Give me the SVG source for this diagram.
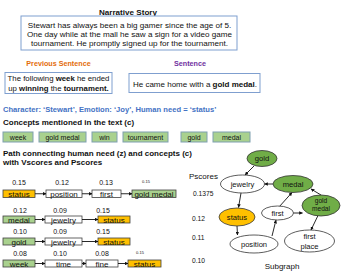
<svg xmlns="http://www.w3.org/2000/svg" width="352" height="274" viewBox="0 0 352 274">
<style>
text{font-family:"Liberation Sans",Arial,sans-serif;fill:#111}
.b{font-weight:bold}
.t{font-size:8.1px}
.h{font-size:8px;font-weight:bold}
.s{font-size:7px}
.pb{font-size:8px}
.g{font-size:7.6px}
.n{font-size:7px}
.tiny{font-size:4px}
.ps{font-size:6.7px}
.frame{fill:#fff;stroke:#7f9fcf;stroke-width:1}
.cbox{fill:#a9d18e;stroke:#7f9fb0;stroke-width:1}
.pw{fill:#fff;stroke:#404040;stroke-width:0.8}
.pg{fill:#a9d18e;stroke:#404040;stroke-width:0.8}
.po{fill:#ffc000;stroke:#404040;stroke-width:0.8}
.eg{fill:#70ad47;stroke:#333;stroke-width:0.8}
.ew{fill:#fff;stroke:#333;stroke-width:0.8}
.eo{fill:#ffc000;stroke:#333;stroke-width:0.8}
.c{text-anchor:middle}
.ln{stroke:#111;stroke-width:0.9;fill:none;marker-end:url(#ah)}
</style>
<defs>
<marker id="ah" viewBox="0 0 6 6" refX="5.5" refY="3" markerWidth="4" markerHeight="4" orient="auto" markerUnits="strokeWidth">
<path d="M0,0 L6,3 L0,6 z" fill="#111"/>
</marker>
</defs>
<rect width="352" height="274" fill="#fff"/>

<g id="story">
<text x="128" y="14.5" class="t b c">Narrative Story</text>
<rect x="21" y="16" width="216" height="34" class="frame"/>
<text x="129.5" y="27.5" class="t c">Stewart has always been a big gamer since the age of 5.</text>
<text x="129.5" y="37" class="t c">One day while at the mall he saw a sign for a video game</text>
<text x="129.5" y="46" class="t c">tournament. He promptly signed up for the tournament.</text>
</g>

<g id="prev">
<text x="58.5" y="65.5" class="b c" style="font-size:7.2px;fill:#e36c0a">Previous Sentence</text>
<rect x="5" y="72.5" width="107" height="21" class="frame"/>
<text x="58.5" y="81" class="c" style="font-size:7.8px">The following <tspan class="b">week</tspan> he ended</text>
<text x="58.5" y="91" class="c" style="font-size:7.8px">up <tspan class="b">winning</tspan> the <tspan class="b">tournament.</tspan></text>
</g>

<g id="sent">
<text x="190" y="65.5" class="b c" style="font-size:7.2px;fill:#7030a0">Sentence</text>
<rect x="129" y="73.5" width="131" height="19" class="frame"/>
<text x="195" y="86.5" class="c" style="font-size:8px">He came home with a <tspan class="b">gold medal</tspan>.</text>
</g>

<text x="3" y="111.5" class="b" style="font-size:7.6px;fill:#4472c4">Character: ‘Stewart’, Emotion: ‘Joy’, Human need = ‘status’</text>
<text x="3" y="125" class="h">Concepts mentioned in the text (c)</text>

<g id="concepts">
<rect x="3" y="132" width="30" height="10" class="cbox"/><text x="18" y="140" class="s c">week</text>
<rect x="39" y="132" width="47" height="10" class="cbox"/><text x="62.5" y="140" class="s c">gold medal</text>
<rect x="92" y="132" width="25" height="10" class="cbox"/><text x="104.5" y="140" class="s c">win</text>
<rect x="123" y="132" width="45" height="10" class="cbox"/><text x="145.5" y="140" class="s c">tournament</text>
<rect x="181" y="132" width="26" height="10" class="cbox"/><text x="194" y="140" class="s c">gold</text>
<rect x="213" y="132" width="37" height="10" class="cbox"/><text x="231.5" y="140" class="s c">medal</text>
</g>

<text x="3" y="155.5" class="h">Path connecting human need (z) and concepts (c)</text>
<text x="3" y="165" class="h">with Vscores and Pscores</text>

<g id="paths">
<text x="19" y="184.5" class="n c">0.15</text>
<text x="62" y="184.5" class="n c">0.12</text>
<text x="106" y="184.5" class="n c">0.13</text>
<text x="146" y="182.5" class="tiny c">0.15</text>
<rect x="3" y="190" width="32" height="7.5" class="po"/><text x="19" y="197" class="pb c">status</text>
<rect x="46" y="190" width="36" height="7.5" class="pw"/><text x="64" y="197" class="pb c">position</text>
<rect x="92" y="190" width="29" height="7.5" class="pw"/><text x="106.5" y="197" class="pb c">first</text>
<rect x="132" y="190" width="44" height="7.5" class="pg"/><text x="154" y="197" class="pb c">gold medal</text>

<text x="20" y="212.5" class="n c">0.12</text>
<text x="60" y="212.5" class="n c">0.09</text>
<text x="103" y="212.5" class="n c">0.15</text>
<rect x="3" y="216" width="32" height="7" class="pg"/><text x="19" y="222.5" class="pb c">medal</text>
<rect x="45" y="216" width="37" height="7" class="pw"/><text x="63.5" y="222.5" class="pb c">jewelry</text>
<rect x="98" y="216" width="32" height="7" class="po"/><text x="114" y="222.5" class="pb c">status</text>

<text x="20" y="233.5" class="n c">0.10</text>
<text x="60" y="233.5" class="n c">0.09</text>
<text x="103" y="233.5" class="n c">0.15</text>
<rect x="3" y="238" width="32" height="7" class="pg"/><text x="19" y="244.5" class="pb c">gold</text>
<rect x="45" y="238" width="37" height="7" class="pw"/><text x="63.5" y="244.5" class="pb c">jewelry</text>
<rect x="98" y="238" width="32" height="7" class="po"/><text x="114" y="244.5" class="pb c">status</text>

<text x="20" y="256" class="n c">0.08</text>
<text x="60" y="256" class="n c">0.10</text>
<text x="102" y="256" class="n c">0.08</text>
<text x="140" y="253.5" class="tiny c">0.15</text>
<rect x="3" y="260" width="32" height="7" class="pg"/><text x="19" y="266.5" class="pb c">week</text>
<rect x="45" y="260" width="37" height="7" class="pw"/><text x="63.5" y="266.5" class="pb c">time</text>
<rect x="86" y="260" width="32" height="7" class="pw"/><text x="102" y="266.5" class="pb c">fine</text>
<rect x="128" y="260" width="33" height="7" class="po"/><text x="144.5" y="266.5" class="pb c">status</text>
</g>

<g id="path-arrows">
<line x1="35" y1="193.75" x2="46" y2="193.75" class="ln"/>
<line x1="82" y1="193.75" x2="92" y2="193.75" class="ln"/>
<line x1="121" y1="193.75" x2="132" y2="193.75" class="ln"/>
<line x1="35" y1="219.5" x2="45" y2="219.5" class="ln"/>
<line x1="82" y1="219.5" x2="98" y2="219.5" class="ln"/>
<line x1="35" y1="241.5" x2="45" y2="241.5" class="ln"/>
<line x1="82" y1="241.5" x2="98" y2="241.5" class="ln"/>
<line x1="35" y1="263.5" x2="45" y2="263.5" class="ln"/>
<line x1="82" y1="263.5" x2="86" y2="263.5" class="ln"/>
<line x1="118" y1="263.5" x2="128" y2="263.5" class="ln"/>
</g>

<g id="pscores">
<text x="189" y="179" style="font-size:8px">Pscores</text>
<text x="193" y="196" class="ps">0.1375</text>
<text x="192" y="220.5" class="ps">0.12</text>
<text x="192" y="239.5" class="ps">0.11</text>
<text x="192" y="263" class="ps">0.10</text>
</g>

<g id="graph-edges">
<line x1="254" y1="166" x2="245" y2="175" class="ln"/>
<line x1="273" y1="184" x2="264.5" y2="184" class="ln"/>
<line x1="321" y1="195" x2="311" y2="189" class="ln"/>
<line x1="279" y1="207" x2="292" y2="192.5" class="ln"/>
<line x1="241" y1="193" x2="238.5" y2="207.5" class="ln"/>
<line x1="237" y1="226" x2="237.5" y2="235" class="ln"/>
<line x1="272" y1="236" x2="276" y2="220" class="ln"/>
<line x1="293" y1="213" x2="302.5" y2="213" class="ln"/>
<line x1="318" y1="215.5" x2="311" y2="230" class="ln"/>
</g>

<g id="n-gold"><ellipse cx="262" cy="158.5" rx="15" ry="8" class="eg"/><text x="262" y="161" class="g c">gold</text></g>
<g id="n-jewelry"><ellipse cx="242.5" cy="184" rx="22" ry="9" class="ew"/><text x="242.5" y="186.5" class="g c">jewelry</text></g>
<g id="n-medal"><ellipse cx="293" cy="184" rx="20" ry="8.5" class="eg"/><text x="293" y="186.5" class="g c">medal</text></g>
<g id="n-goldmedal"><ellipse cx="321" cy="205.5" rx="19" ry="10.5" class="eg"/><text x="321" y="203" class="c" style="font-size:6.6px">gold</text><text x="321" y="211" class="c" style="font-size:6.6px">medal</text></g>
<g id="n-status"><ellipse cx="237" cy="217" rx="18" ry="9" class="eo"/><text x="237" y="219.5" class="g c">status</text></g>
<g id="n-first"><ellipse cx="277.5" cy="213" rx="16" ry="7" class="ew"/><text x="277.5" y="215.5" class="g c">first</text></g>
<g id="n-position"><ellipse cx="254" cy="244" rx="24" ry="9" class="ew"/><text x="254" y="246.5" class="g c">position</text></g>
<g id="n-firstplace"><ellipse cx="309.5" cy="241" rx="25" ry="11" class="ew"/><text x="309.5" y="239" class="g c">first</text><text x="309.5" y="248.5" class="g c">place</text></g>

<text x="282" y="269" class="c" style="font-size:8px">Subgraph</text>
</svg>
